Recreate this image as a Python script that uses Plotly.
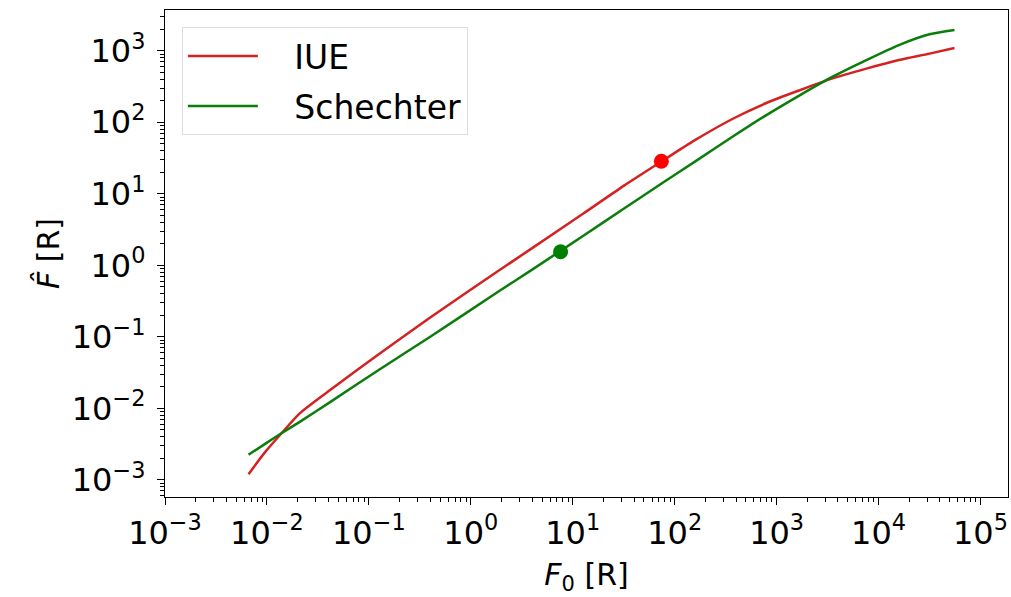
import plotly.graph_objects as go

# Data
F0 = [0.0066, 0.0095, 0.0135, 0.021, 0.042, 0.126, 0.40, 1.9, 4.0, 12.6, 31.6,
      77.6, 158, 372, 794, 1700, 3470, 7590, 15850, 31620, 55600]
iue = [0.00120, 0.00240, 0.00427, 0.00851, 0.0182, 0.0575, 0.186, 0.851, 1.74, 5.25, 12.9,
       29.5, 56.2, 112, 186, 282, 407, 562, 741, 912, 1096]
schechter = [0.00224, 0.00316, 0.00437, 0.00646, 0.0123, 0.0347, 0.100, 0.437, 0.871,
             2.57, 6.17, 14.5, 28.2, 63.1, 126, 240, 427, 741, 1202, 1698, 1950]
iue_point = ([74], [28.5])
sch_point = ([7.6], [1.55])

x_exps = [-3, -2, -1, 0, 1, 2, 3, 4, 5]
y_exps = [-3, -2, -1, 0, 1, 2, 3]


def sup_label(e):
    s = str(e).replace("-", "\u2212")
    return "10<sup>" + s + "</sup>"


def minor_vals(lo, hi):
    vals = []
    for e in range(lo, hi + 1):
        for m in range(2, 10):
            vals.append(m * 10.0 ** e)
    return vals


RED = "#d42222"
GREEN = "#0a7d0a"
FONT = "DejaVu Sans"
FS = 32

fig = go.Figure()
fig.add_trace(go.Scatter(x=F0, y=iue, mode="lines", name="   IUE", legendgroup="a",
                         line=dict(color=RED, width=2.5, shape="spline", smoothing=0.7)))
fig.add_trace(go.Scatter(x=F0, y=schechter, mode="lines", name="   Schechter", legendgroup="b",
                         line=dict(color=GREEN, width=2.5, shape="spline", smoothing=0.7)))
fig.add_trace(go.Scatter(x=iue_point[0], y=iue_point[1], mode="markers", showlegend=False,
                         marker=dict(color="#ff0000", size=15)))
fig.add_trace(go.Scatter(x=sch_point[0], y=sch_point[1], mode="markers", showlegend=False,
                         marker=dict(color="#008000", size=15)))

axis_common = dict(
    type="log", showgrid=False, zeroline=False, automargin=False,
    showline=True, linecolor="black", linewidth=1.3, mirror=True,
    ticks="outside", ticklen=7, tickwidth=1.2, tickcolor="black",
    tickfont=dict(family=FONT, size=FS, color="black"),
)

fig.update_xaxes(
    **axis_common,
    range=[-3, 5.27],
    tickmode="array",
    tickvals=[10.0 ** e for e in x_exps],
    ticktext=[sup_label(e) for e in x_exps],
    minor=dict(ticks="outside", ticklen=4, tickwidth=1, tickcolor="black",
               tickmode="array", tickvals=minor_vals(-3, 5)),
    title=dict(text="<i>F</i><sub>0</sub> [R]", font=dict(family=FONT, size=FS - 2, color="black"),
               standoff=13),
)
fig.update_yaxes(
    **axis_common,
    range=[-3.24, 3.57],
    tickmode="array",
    tickvals=[10.0 ** e for e in y_exps],
    ticktext=[sup_label(e) for e in y_exps],
    ticklabelstandoff=5,
    minor=dict(ticks="outside", ticklen=4, tickwidth=1, tickcolor="black",
               tickmode="array", tickvals=minor_vals(-4, 3)),
    title=dict(text="<i>F\u0302</i> [R]", font=dict(family=FONT, size=FS - 2, color="black"),
               standoff=3),
)

fig.update_layout(
    width=1011, height=597,
    margin=dict(l=165, r=3, t=10, b=100),
    paper_bgcolor="white", plot_bgcolor="white",
    font=dict(family=FONT, size=FS, color="black"),
    legend=dict(x=0.02, y=0.965, xanchor="left", yanchor="top",
                bgcolor="white", bordercolor="#dddddd", borderwidth=1,
                itemwidth=70, tracegroupgap=4, traceorder="grouped",
                font=dict(family=FONT, size=33, color="black")),
)

# remove the default 8px body margin so the figure fills the window exactly
fig.write_html("out.html", config={"displayModeBar": False},
               post_script="document.body.style.margin='0';")
